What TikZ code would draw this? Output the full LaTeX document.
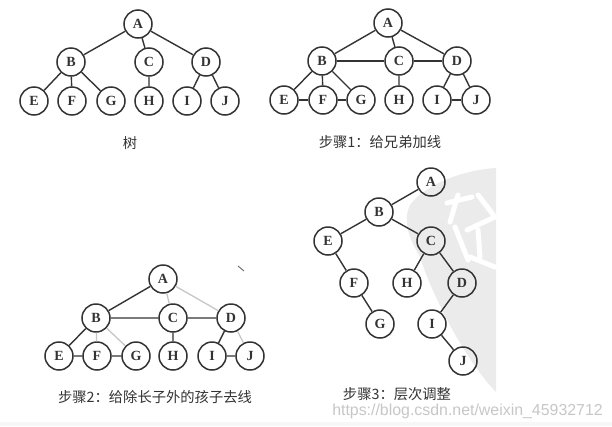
\documentclass[tikz,border=0pt]{standalone}
\usepackage{fontspec}
\setmainfont{Liberation Serif}
\newfontfamily\cjk{Noto Sans CJK SC}
\newfontfamily\wm{Liberation Sans}
\definecolor{ink}{HTML}{333333}
\definecolor{wmgray}{HTML}{EBEBEB}
\tikzset{
  vx/.style={circle,draw=ink,line width=1.5pt,fill=white,minimum size=28pt,inner sep=0pt,font=\bfseries\fontsize{14}{14}\selectfont,text=ink},
  vo/.style={vx,fill=none},
  ed/.style={draw=ink,line width=1.4pt},
  heavy/.style={draw=ink,line width=2.6pt},
  faint/.style={draw=black!22,line width=1.3pt},
  captxt/.style={font=\cjk\fontsize{14.3}{14.3}\selectfont,text=ink,inner sep=0pt},
}
\begin{document}
\begin{tikzpicture}[x=1pt,y=-1pt]
\useasboundingbox (0,0) rectangle (612,426);
\fill[white] (0,0) rectangle (612,426);
\fill[black!3] (0,422) rectangle (612,426);
% watermark
\fill[wmgray] (496,168) .. controls (462,170) and (425,185) .. (410,205) .. controls (402,222) and (410,240) .. (420,257) .. controls (432,295) and (465,360) .. (496,392) -- cycle;
\draw[white,line width=5pt,line cap=round] (458,195) -- (450,222) (447,203) -- (472,197) (455,227) -- (468,260) (478,195) -- (495,217) (467,230) -- (495,217) (478,230) -- (480,257) (470,257) -- (495,267);
% tree 1
\node[vx] (a1) at (138,24) {A};
\node[vx] (b1) at (71,62) {B};
\node[vx] (c1) at (149,62) {C};
\node[vx] (d1) at (206,62) {D};
\node[vx] (e1) at (34,101) {E};
\node[vx] (f1) at (72,101) {F};
\node[vx] (g1) at (111,101) {G};
\node[vx] (h1) at (149,101) {H};
\node[vx] (i1) at (187,101) {I};
\node[vx] (j1) at (225,101) {J};
\draw[ed] (a1)--(b1) (a1)--(c1) (a1)--(d1) (b1)--(e1) (b1)--(f1) (b1)--(g1) (c1)--(h1) (d1)--(i1) (d1)--(j1);
\node[captxt] (t1) at (130,143) {树};
% tree 2
\node[vx] (a2) at (388,23) {A};
\node[vx] (b2) at (322,61) {B};
\node[vx] (c2) at (399,61) {C};
\node[vx] (d2) at (457,61) {D};
\node[vx] (e2) at (284,100) {E};
\node[vx] (f2) at (323,100) {F};
\node[vx] (g2) at (361,100) {G};
\node[vx] (h2) at (399,100) {H};
\node[vx] (i2) at (437,100) {I};
\node[vx] (j2) at (476,100) {J};
\draw[ed] (a2)--(b2) (a2)--(c2) (a2)--(d2) (b2)--(e2) (b2)--(f2) (b2)--(g2) (c2)--(h2) (d2)--(i2) (d2)--(j2);
\draw[heavy] (b2)--(c2) (c2)--(d2) (e2)--(f2) (f2)--(g2) (i2)--(j2);
\node[captxt] (t2) at (380,142) {步骤1：给兄弟加线};
% tree 3
\node[vx] (a3) at (163,279) {A};
\node[vx] (b3) at (96,318) {B};
\node[vx] (c3) at (173,318) {C};
\node[vx] (d3) at (231,318) {D};
\node[vx] (e3) at (59,356) {E};
\node[vx] (f3) at (97,356) {F};
\node[vx] (g3) at (136,356) {G};
\node[vx] (h3) at (173,356) {H};
\node[vx] (i3) at (212,356) {I};
\node[vx] (j3) at (250,356) {J};
\draw[ed] (a3)--(b3) (b3)--(e3) (c3)--(h3) (d3)--(i3) (b3)--(c3) (c3)--(d3) (e3)--(f3) (f3)--(g3) (i3)--(j3);
\draw[faint] (a3)--(c3) (a3)--(d3) (b3)--(f3) (b3)--(g3) (d3)--(j3);
\node[captxt] (t3) at (155,397) {步骤2：给除长子外的孩子去线};
\coordinate (s1) at (238,266);
\coordinate (s2) at (244,271);
\draw[black!55,line width=1pt] (s1)--(s2);
% tree 4
\node[vo] (a4) at (431,182) {A};
\node[vo] (b4) at (379,212) {B};
\node[vo] (c4) at (431,241) {C};
\node[vo] (e4) at (328,241) {E};
\node[vo] (f4) at (354,283) {F};
\node[vo] (h4) at (407,283) {H};
\node[vo] (d4) at (462,283) {D};
\node[vo] (g4) at (380,324) {G};
\node[vo] (i4) at (432,324) {I};
\node[vo] (j4) at (463,361) {J};
\draw[ed] (a4)--(b4) (b4)--(e4) (b4)--(c4) (e4)--(f4) (f4)--(g4) (c4)--(h4) (c4)--(d4) (d4)--(i4) (i4)--(j4);
\node[captxt] (t4) at (397,394.5) {步骤3：层次调整};
\node[font=\wm\fontsize{15.9}{15.9}\selectfont,text=black!22,inner sep=0pt] (url) at (467.5,411) {https://blog.csdn.net/weixin\_45932712};
\end{tikzpicture}
\end{document}
